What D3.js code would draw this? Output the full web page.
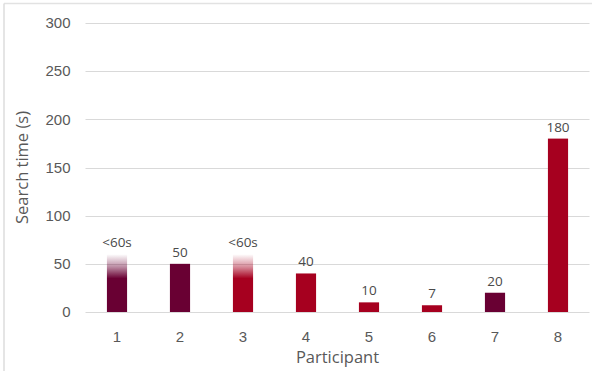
<!DOCTYPE html>
<html>
<head>
<meta charset="utf-8">
<script src="https://cdn.jsdelivr.net/npm/d3@7"></script>
<style>
  html, body { margin: 0; padding: 0; background: #fff; }
  svg { display: block; font-family: "Open Sans", "Noto Sans", sans-serif; }
</style>
</head>
<body>
<svg id="chart" width="592" height="371"></svg>
<script>
// Search time per participant
const participants = ["1", "2", "3", "4", "5", "6", "7", "8"];
const searchTimes = [60, 50, 60, 40, 10, 7, 20, 180];
const valueLabels = ["<60s", "50", "<60s", "40", "10", "7", "20", "180"];
// bars with an upper bound only ("<60s") fade out at the top
const uncertain = [true, false, true, false, false, false, false, false];
const groups = ["dark", "dark", "red", "red", "red", "red", "dark", "red"];
const yTicks = [0, 50, 100, 150, 200, 250, 300];

const colors = { dark: "#690033", red: "#a6001f" };

const svg = d3.select("#chart");
const W = 592, H = 371;
const margin = { left: 85.5, right: 2.5, top: 23, bottom: 59 };

// frame
svg.append("line").attr("x1", 4).attr("x2", W).attr("y1", 3.5).attr("y2", 3.5)
  .attr("stroke", "#e2e2e2").attr("stroke-width", 1.5);
svg.append("line").attr("x1", 4).attr("x2", 4).attr("y1", 3.5).attr("y2", H)
  .attr("stroke", "#dcdcdc").attr("stroke-width", 1.5);

const x = d3.scaleBand()
  .domain(participants)
  .range([margin.left, W - margin.right])
  .paddingInner(0.68)
  .paddingOuter(0.34);

const y = d3.scaleLinear()
  .domain([0, 300])
  .range([H - margin.bottom, margin.top]);

// gridlines
svg.append("g")
  .selectAll("line")
  .data(yTicks)
  .join("line")
  .attr("x1", margin.left).attr("x2", W - margin.right)
  .attr("y1", d => Math.round(y(d)) + 0.5).attr("y2", d => Math.round(y(d)) + 0.5)
  .attr("stroke", "#d9d9d9").attr("stroke-width", 1);

// y axis labels
const yAxis = d3.axisLeft(y).tickValues(yTicks).tickSize(0).tickPadding(15);
svg.append("g")
  .attr("transform", `translate(${margin.left},0)`)
  .call(yAxis)
  .call(g => g.select(".domain").remove())
  .call(g => g.selectAll("text").attr("fill", "#595959").attr("font-size", 15));

// x axis labels
const xAxis = d3.axisBottom(x).tickSize(0).tickPadding(19);
svg.append("g")
  .attr("transform", `translate(0,${y(0)})`)
  .call(xAxis)
  .call(g => g.select(".domain").remove())
  .call(g => g.selectAll("text").attr("fill", "#595959").attr("font-size", 15));

// fading gradients for upper-bound bars
const defs = svg.append("defs");
["dark", "red"].forEach(k => {
  const grad = defs.append("linearGradient")
    .attr("id", "fade-" + k)
    .attr("x1", 0).attr("x2", 0).attr("y1", 1).attr("y2", 0);
  grad.append("stop").attr("offset", "0%").attr("stop-color", colors[k]).attr("stop-opacity", 1);
  grad.append("stop").attr("offset", "58%").attr("stop-color", colors[k]).attr("stop-opacity", 1);
  grad.append("stop").attr("offset", "78%").attr("stop-color", colors[k]).attr("stop-opacity", 0.45);
  grad.append("stop").attr("offset", "100%").attr("stop-color", colors[k]).attr("stop-opacity", 0.0);
});

const data = participants.map((p, i) => ({
  p, v: searchTimes[i], label: valueLabels[i], fade: uncertain[i], g: groups[i]
}));

// bars
svg.append("g")
  .selectAll("rect")
  .data(data)
  .join("rect")
  .attr("x", d => x(d.p))
  .attr("width", x.bandwidth())
  .attr("y", d => y(d.v))
  .attr("height", d => y(0) - y(d.v))
  .attr("fill", d => d.fade ? `url(#fade-${d.g})` : colors[d.g]);

// value labels
svg.append("g")
  .selectAll("text")
  .data(data)
  .join("text")
  .attr("x", d => x(d.p) + x.bandwidth() / 2)
  .attr("y", d => y(d.v) - 7)
  .attr("text-anchor", "middle")
  .attr("fill", "#4a4a4a")
  .attr("font-size", 13.5)
  .text(d => d.label);

// axis titles
svg.append("text")
  .attr("transform", `translate(28,${(y(0) + y(300)) / 2}) rotate(-90)`)
  .attr("text-anchor", "middle")
  .attr("fill", "#595959")
  .attr("font-size", 16.5)
  .text("Search time (s)");

svg.append("text")
  .attr("x", (margin.left + W - margin.right) / 2)
  .attr("y", 363)
  .attr("text-anchor", "middle")
  .attr("fill", "#595959")
  .attr("font-size", 16.5)
  .text("Participant");
</script>
</body>
</html>
